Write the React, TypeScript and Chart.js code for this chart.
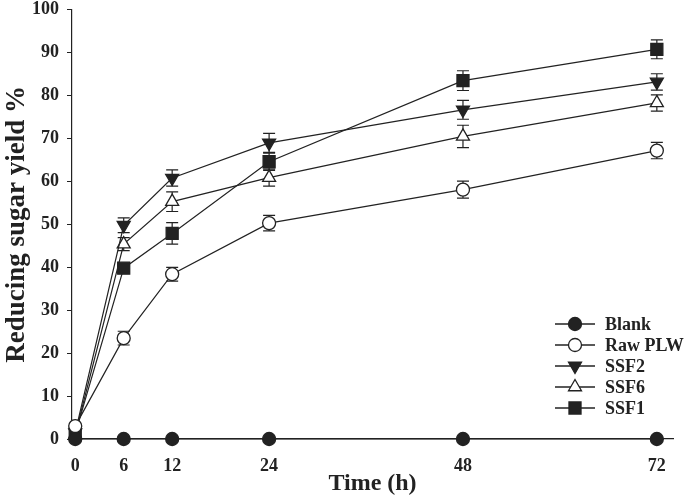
import React, { useEffect, useRef } from "react";
import { Chart, registerables } from "chart.js";
import { drawPoint } from "chart.js/helpers";

Chart.register(...registerables);

const hours = [0, 6, 12, 24, 48, 72];
const xTickValues = [0, 6, 12, 24, 48, 72];

const seriesNames = ["Blank", "Raw PLW", "SSF2", "SSF6", "SSF1"];
const blank = [0, 0, 0, 0, 0, 0];
const rawPLW = [3.0, 23.5, 38.4, 50.3, 58.1, 67.2];
const ssf2 = [1.5, 49.8, 60.8, 69.0, 76.7, 83.2];
const ssf6 = [1.0, 45.4, 55.3, 60.9, 70.5, 78.3];
const ssf1 = [1.2, 39.8, 47.9, 64.6, 83.5, 90.8];

const blankErr = [0, 0, 0, 0, 0, 0];
const rawErr = [0.5, 1.6, 1.6, 1.8, 2.0, 1.9];
const ssf2Err = [0, 1.7, 1.9, 2.2, 2.2, 1.9];
const ssf6Err = [0, 1.5, 2.3, 2.0, 2.6, 1.9];
const ssf1Err = [0, 0.8, 2.5, 2.0, 2.3, 2.2];

const FONT = "'Liberation Serif', 'Times New Roman', serif";
const INK = "#222222";

const styles = [
  { pointStyle: "circle", radius: 6.5, fill: INK, rotation: 0 },
  { pointStyle: "circle", radius: 6.5, fill: "#ffffff", rotation: 0 },
  { pointStyle: "triangle", radius: 7.5, fill: INK, rotation: 180 },
  { pointStyle: "triangle", radius: 7.5, fill: "#ffffff", rotation: 0 },
  { pointStyle: "rect", radius: 8.5, fill: INK, rotation: 0 },
];

const values = [blank, rawPLW, ssf2, ssf6, ssf1];
const errors = [blankErr, rawErr, ssf2Err, ssf6Err, ssf1Err];

const errorBarPlugin = {
  id: "errorBars",
  beforeDatasetsDraw(chart: any) {
    const { ctx } = chart;
    const xs = chart.scales.x;
    const ys = chart.scales.y;
    ctx.save();
    ctx.strokeStyle = INK;
    ctx.lineWidth = 1.2;
    values.forEach((vals, si) => {
      vals.forEach((v, i) => {
        const e = errors[si][i];
        if (!e) return;
        const px = xs.getPixelForValue(hours[i]);
        const yTop = ys.getPixelForValue(v + e);
        const yBot = ys.getPixelForValue(v - e);
        const cap = 6;
        ctx.beginPath();
        ctx.moveTo(px, yTop);
        ctx.lineTo(px, yBot);
        ctx.moveTo(px - cap, yTop);
        ctx.lineTo(px + cap, yTop);
        ctx.moveTo(px - cap, yBot);
        ctx.lineTo(px + cap, yBot);
        ctx.stroke();
      });
    });
    ctx.restore();
  },
};

const legendPlugin = {
  id: "customLegend",
  afterDraw(chart: any) {
    const { ctx } = chart;
    ctx.save();
    seriesNames.forEach((name, i) => {
      const y = 324 + 21 * i;
      const st = styles[i];
      ctx.strokeStyle = INK;
      ctx.lineWidth = 1.3;
      ctx.beginPath();
      ctx.moveTo(555, y);
      ctx.lineTo(595, y);
      ctx.stroke();
      ctx.fillStyle = st.fill;
      ctx.strokeStyle = INK;
      ctx.lineWidth = 1.3;
      drawPoint(
        ctx,
        { pointStyle: st.pointStyle, radius: st.radius, rotation: st.rotation, borderWidth: 1.3 } as any,
        575,
        y
      );
      ctx.fillStyle = INK;
      ctx.font = `bold 18px ${FONT}`;
      ctx.textAlign = "left";
      ctx.textBaseline = "middle";
      ctx.fillText(name, 605, y + 1);
    });
    ctx.restore();
  },
};

export default function App() {
  const ref = useRef<HTMLCanvasElement | null>(null);

  useEffect(() => {
    if (!ref.current) return;
    const datasets = seriesNames.map((name, i) => ({
      label: name,
      data: hours.map((h, j) => ({ x: h, y: values[i][j] })),
      borderColor: INK,
      borderWidth: 1.2,
      backgroundColor: styles[i].fill,
      pointStyle: styles[i].pointStyle as any,
      pointRadius: styles[i].radius,
      pointRotation: styles[i].rotation,
      pointBackgroundColor: styles[i].fill,
      pointBorderColor: INK,
      pointBorderWidth: 1.3,
      tension: 0,
      clip: false as any,
    }));

    const chart = new Chart(ref.current, {
      type: "line",
      data: { datasets },
      plugins: [errorBarPlugin, legendPlugin],
      options: {
        animation: false,
        responsive: false,
        devicePixelRatio: 1,
        layout: { padding: { top: 5, right: 12, left: 0, bottom: 0 } },
        plugins: {
          legend: { display: false },
          tooltip: { enabled: false },
        },
        scales: {
          x: {
            type: "linear",
            min: -0.4,
            max: 74,
            afterBuildTicks: (scale: any) => {
              scale.ticks = xTickValues.map((v) => ({ value: v }));
            },
            afterFit: (scale: any) => {
              scale.height = 62;
              scale.paddingLeft = 0;
              scale.paddingRight = 0;
            },
            grid: { display: false, drawTicks: false },
            border: { display: true, color: INK, width: 1.2 },
            ticks: {
              color: INK,
              font: { family: FONT, size: 18, weight: "bold" },
              padding: 17,
              maxRotation: 0,
              autoSkip: false,
            },
            title: {
              display: true,
              text: "Time (h)",
              color: INK,
              font: { family: FONT, size: 24, weight: "bold" },
              padding: { top: 3, bottom: 3 },
            },
          },
          y: {
            type: "linear",
            min: 0,
            max: 100,
            afterFit: (scale: any) => {
              scale.width = 72;
              scale.paddingTop = 0;
              scale.paddingBottom = 0;
            },
            grid: {
              display: true,
              drawOnChartArea: false,
              drawTicks: true,
              tickLength: 5,
              color: INK,
              lineWidth: 1,
            },
            border: { display: true, color: INK, width: 1.2 },
            ticks: {
              stepSize: 10,
              color: INK,
              font: { family: FONT, size: 18, weight: "bold" },
              padding: 8,
            },
            title: {
              display: true,
              text: "Reducing sugar yield %",
              color: INK,
              font: { family: FONT, size: 27, weight: "bold" },
              padding: { top: 1, bottom: 1 },
            },
          },
        },
      },
    });
    return () => chart.destroy();
  }, []);

  return (
    <div style={{ position: "absolute", left: 0, top: 0, width: 685, height: 501, background: "#ffffff" }}>
      <canvas ref={ref} width={685} height={501} style={{ width: 685, height: 501 }} />
    </div>
  );
}
